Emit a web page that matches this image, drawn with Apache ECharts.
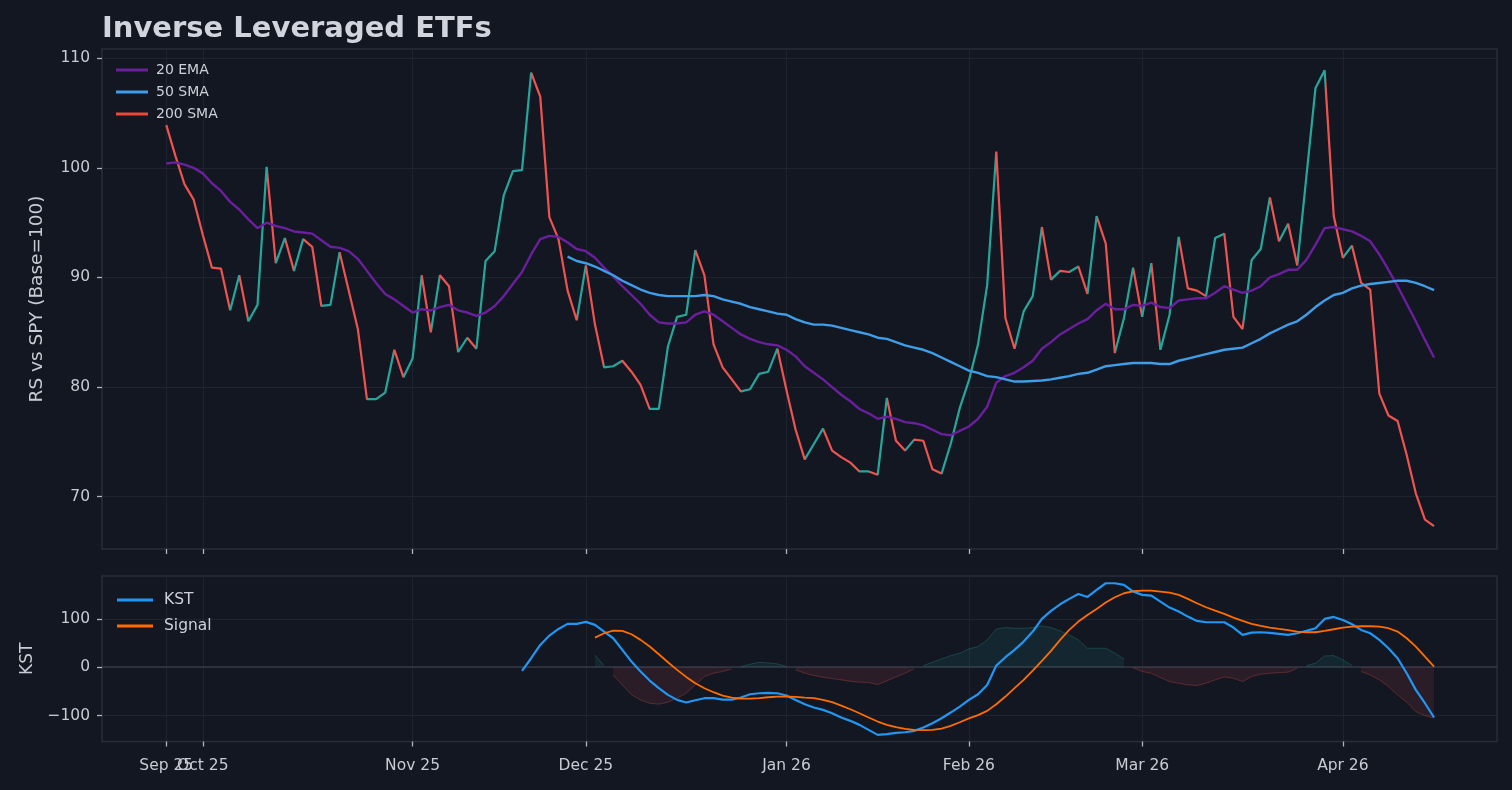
<!DOCTYPE html>
<html>
<head>
<meta charset="utf-8">
<title>Inverse Leveraged ETFs</title>
<script src="https://cdn.jsdelivr.net/npm/echarts@6/dist/echarts.min.js"></script>
<style>
  html, body { margin: 0; padding: 0; background: #131722; }
  #chart { width: 1512px; height: 790px; }
</style>
</head>
<body>
<div id="chart"></div>
<script>
// x axis is the trading-day index; labels sit on month starts
const tickPos = [0, 4, 27, 46, 68, 88, 107, 129];
const tickLabels = ['Sep 25', 'Oct 25', 'Nov 25', 'Dec 25', 'Jan 26', 'Feb 26', 'Mar 26', 'Apr 26'];

const rsTicks = [70, 80, 90, 100, 110];
const kstTicks = [-100, 0, 100];

// relative strength vs SPY, one value per trading day
const rs = [
    103.9, 101.1, 98.5, 97.1, 93.9, 90.9, 90.8, 87.0, 90.2, 86.0,
    87.5, 100.1, 91.3, 93.6, 90.6, 93.5, 92.8, 87.4, 87.5, 92.3,
    88.8, 85.3, 78.9, 78.9, 79.5, 83.4, 80.9, 82.6, 90.2, 85.0,
    90.2, 89.2, 83.2, 84.5, 83.5, 91.5, 92.4, 97.5, 99.7, 99.8,
    108.7, 106.5, 95.5, 93.5, 88.8, 86.1, 91.1, 85.7, 81.8, 81.9,
    82.4, 81.4, 80.2, 78.0, 78.0, 83.7, 86.4, 86.6, 92.5, 90.2,
    83.9, 81.8, 80.7, 79.6, 79.8, 81.2, 81.4, 83.5, 79.7, 76.1,
    73.4, 74.8, 76.2, 74.2, 73.6, 73.1, 72.3, 72.3, 72.0, 79.0,
    75.1, 74.2, 75.2, 75.1, 72.5, 72.1, 74.8, 78.1, 80.6, 83.9,
    89.3, 101.5, 86.3, 83.5, 86.9, 88.3, 94.6, 89.8, 90.6, 90.5,
    91.0, 88.5, 95.6, 93.1, 83.1, 86.3, 90.9, 86.4, 91.3, 83.4,
    86.6, 93.7, 89.0, 88.8, 88.3, 93.6, 94.0, 86.4, 85.3, 91.6,
    92.6, 97.3, 93.3, 94.9, 91.1, 99.2, 107.3, 108.9, 95.6, 91.8,
    92.9, 89.5, 88.9, 79.4, 77.4, 76.9, 73.8, 70.3, 67.9, 67.3
];

const ema20 = [
    100.4, 100.5, 100.3, 100.0, 99.5, 98.6, 97.9, 96.9, 96.2, 95.3,
    94.5, 95.0, 94.7, 94.5, 94.2, 94.1, 94.0, 93.4, 92.8, 92.7,
    92.4, 91.7, 90.6, 89.5, 88.5, 88.0, 87.4, 86.8, 87.1, 87.0,
    87.3, 87.5, 87.0, 86.8, 86.5, 86.8, 87.4, 88.3, 89.4, 90.5,
    92.1, 93.5, 93.8, 93.7, 93.2, 92.6, 92.4, 91.8, 90.9, 90.1,
    89.2, 88.4, 87.6, 86.6, 85.9, 85.8, 85.8, 85.9, 86.6, 86.9,
    86.6, 86.0, 85.4, 84.8, 84.4, 84.1, 83.9, 83.8, 83.4, 82.8,
    81.9, 81.3, 80.7, 80.0, 79.3, 78.7, 78.0, 77.6, 77.1, 77.3,
    77.1, 76.8, 76.7, 76.5, 76.1, 75.7, 75.6, 76.0, 76.4, 77.1,
    78.2, 80.4, 81.0, 81.3, 81.8, 82.4, 83.5, 84.1, 84.8, 85.3,
    85.8, 86.2, 87.0, 87.6, 87.1, 87.1, 87.5, 87.4, 87.7, 87.3,
    87.2, 87.9, 88.0, 88.1, 88.1, 88.6, 89.2, 88.9, 88.6, 88.8,
    89.2, 90.0, 90.3, 90.7, 90.7, 91.6, 93.0, 94.5, 94.6, 94.4,
    94.2, 93.8, 93.3, 92.1, 90.7, 89.2, 87.6, 86.0, 84.3, 82.7
];

// 50 SMA begins at day 44
const sma50Start = 44;
const sma50 = [
    91.9, 91.5, 91.3, 91.0, 90.6, 90.2, 89.7, 89.3, 88.9, 88.6,
    88.4, 88.3, 88.3, 88.3, 88.3, 88.4, 88.3, 88.0, 87.8, 87.6,
    87.3, 87.1, 86.9, 86.7, 86.6, 86.2, 85.9, 85.7, 85.7, 85.6,
    85.4, 85.2, 85.0, 84.8, 84.5, 84.4, 84.1, 83.8, 83.6, 83.4,
    83.1, 82.7, 82.3, 81.9, 81.5, 81.3, 81.0, 80.9, 80.7, 80.5,
    80.5, 80.55, 80.6, 80.7, 80.85, 81.0, 81.2, 81.3, 81.6, 81.9,
    82.0, 82.1, 82.2, 82.2, 82.2, 82.1, 82.1, 82.4, 82.6, 82.8,
    83.0, 83.2, 83.4, 83.5, 83.6, 84.0, 84.4, 84.9, 85.3, 85.7,
    86.0, 86.6, 87.3, 87.9, 88.4, 88.6, 89.0, 89.25, 89.4, 89.5,
    89.6, 89.7, 89.7, 89.5, 89.2, 88.85
];

// not enough history for a 200 SMA, legend entry only
const sma200 = [];

const kstStart = 39;
const kst = [
    -7.6, 18.6, 46.2, 65.5, 79.3, 89.7, 89.7, 93.8, 87.6, 73.8,
    60.0, 35.9, 11.7, -9.0, -27.6, -43.4, -57.2, -67.6, -73.1, -68.3,
    -64.1, -64.1, -66.9, -66.9, -62.8, -55.9, -53.8, -53.1, -53.8, -58.6,
    -67.6, -76.6, -83.4, -88.3, -95.2, -104.1, -111.0, -119.3, -129.7, -140.0,
    -138.6, -135.9, -134.5, -131.7, -124.8, -115.9, -105.5, -93.8, -81.4, -67.6,
    -56.0, -36.6, 3.4, 20.7, 35.9, 53.1, 73.8, 100.0, 116.6, 130.3,
    141.4, 151.7, 145.5, 160.0, 173.8, 173.8, 170.3, 156.6, 149.7, 148.3,
    135.9, 123.4, 115.2, 104.8, 95.9, 93.1, 93.1, 93.1, 82.1, 66.9,
    71.7, 72.4, 71.0, 69.0, 66.9, 70.3, 75.2, 80.7, 100.0, 104.1,
    97.9, 89.0, 77.2, 70.3, 56.6, 39.3, 18.6, -12.4, -46.9, -74.5,
    -104.1
];

// signal line and KST - signal histogram both begin at day 47
const signalStart = 47;
const signal = [
    61.4, 70.3, 75.9, 75.2, 68.3, 56.6, 42.8, 26.9, 10.3, -5.5,
    -20.0, -33.1, -43.4, -51.7, -58.6, -62.8, -64.8, -64.8, -64.1, -62.1,
    -60.7, -60.7, -61.4, -62.8, -64.1, -67.6, -72.4, -79.3, -86.9, -95.2,
    -104.1, -112.4, -119.3, -124.1, -127.6, -129.7, -130.3, -129.7, -126.9, -121.4,
    -113.8, -106.0, -99.0, -90.3, -76.6, -60.7, -43.4, -26.2, -6.9, 13.1,
    33.8, 56.6, 77.2, 94.5, 108.3, 120.7, 133.8, 144.8, 153.1, 157.2,
    158.6, 158.6, 156.6, 154.5, 149.7, 141.4, 132.4, 124.1, 117.2, 110.3,
    102.8, 95.9, 89.7, 85.5, 82.1, 79.3, 76.6, 73.8, 72.4, 72.4,
    75.2, 78.6, 82.1, 84.1, 84.8, 84.8, 84.1, 80.7, 73.8, 60.0,
    42.8, 22.0, 1.4
];
const hist = [
    25.5, 3.0, -16.0, -37.0, -57.0, -68.0, -74.5, -76.5, -72.4, -64.0,
    -54.0, -36.6, -19.3, -12.4, -9.0, -3.4, 1.0, 6.2, 10.3, 9.0,
    6.9, 1.4, -5.5, -12.4, -17.2, -20.7, -23.4, -26.2, -29.0, -31.0,
    -31.7, -35.9, -28.3, -20.0, -12.4, -3.4, 3.4, 10.3, 17.2, 24.0,
    29.0, 38.0, 42.8, 56.6, 79.3, 82.0, 80.7, 80.7, 82.0, 85.5,
    82.0, 75.2, 66.9, 56.6, 39.3, 39.3, 39.3, 29.0, 17.2, -1.0,
    -9.0, -12.4, -21.4, -29.7, -33.1, -36.6, -37.9, -33.1, -26.2, -20.0,
    -22.8, -29.7, -19.3, -14.5, -12.4, -11.0, -10.3, -2.0, 3.4, 8.3,
    23.4, 24.1, 15.2, 3.4, -9.0, -15.9, -26.2, -40.0, -57.2, -72.4,
    -91.7, -100.0, -105.5
];

const FONT = 'DejaVu Sans';
const BG = '#131722';
const UP = '#26a69a';
const DOWN = '#ef5350';
const GRID_LINE = '#1f2330';
const FRAME = '#2a2e39';
const TICK_TEXT = '#c8cbd2';
const X_MIN = -7.05;
const X_MAX = 145.9;

function pairs(arr, start) {
    return arr.map(function (v, i) { return [i + start, v]; });
}

// colour each RS segment by its direction
const rsPieces = [];
for (let i = 0; i < rs.length - 1; i++) {
    const piece = { gte: i, color: rs[i + 1] >= rs[i] ? UP : DOWN };
    if (i === rs.length - 2) piece.lte = i + 1; else piece.lt = i + 1;
    rsPieces.push(piece);
}

function labelStyle(values) {
    return {
        customValues: values,
        hideOverlap: false,
        margin: 16,
        color: TICK_TEXT,
        fontFamily: FONT,
        fontSize: 15.5,
        formatter: function (v) { return tickLabels[tickPos.indexOf(v)]; }
    };
}

function xAxisOf(gridIndex, showLabels) {
    // first label overlaps the second, so it gets its own axis below
    const label = labelStyle(tickPos.slice(1));
    label.show = showLabels;
    return {
        type: 'value',
        gridIndex: gridIndex,
        min: X_MIN,
        max: X_MAX,
        axisLine: { show: false, onZero: false },
        splitLine: { show: true, lineStyle: { color: GRID_LINE, width: 1 } },
        axisTick: { show: true, customValues: tickPos, length: 5, lineStyle: { color: '#b2b5be', width: 1.3 } },
        axisLabel: label
    };
}

function yAxisOf(gridIndex, min, max, ticks, name, nameGap, nameSize) {
    return {
        type: 'value',
        gridIndex: gridIndex,
        min: min,
        max: max,
        axisLine: { show: false, onZero: false },
        splitLine: { show: true, lineStyle: { color: GRID_LINE, width: 1 } },
        axisTick: { show: true, customValues: ticks, length: 5, lineStyle: { color: '#b2b5be', width: 1.3 } },
        axisLabel: {
            customValues: ticks,
            margin: 12,
            color: TICK_TEXT,
            fontFamily: FONT,
            fontSize: 15.5,
            formatter: function (v) { return v < 0 ? '\u2212' + Math.abs(v) : String(v); }
        },
        name: name,
        nameLocation: 'middle',
        nameGap: nameGap,
        nameTextStyle: { color: TICK_TEXT, fontFamily: FONT, fontSize: nameSize }
    };
}

const option = {
    backgroundColor: BG,
    animation: false,
    title: {
        text: 'Inverse Leveraged ETFs',
        left: 97,
        top: 10,
        textStyle: { color: '#d1d4dc', fontFamily: FONT, fontSize: 29, fontWeight: 'bold' }
    },
    legend: [
        {
            data: ['20 EMA', '50 SMA', '200 SMA'],
            orient: 'vertical',
            left: 116,
            top: 63,
            padding: 0,
            itemGap: 8,
            itemWidth: 32,
            itemHeight: 3,
            icon: 'rect',
            textStyle: { color: '#cdd0d8', fontFamily: FONT, fontSize: 14, padding: [0, 0, 0, 3] }
        },
        {
            data: ['KST', 'Signal'],
            orient: 'vertical',
            left: 117,
            top: 592,
            padding: 0,
            itemGap: 10,
            itemWidth: 36,
            itemHeight: 3,
            icon: 'rect',
            textStyle: { color: '#cdd0d8', fontFamily: FONT, fontSize: 15.5, padding: [0, 0, 0, 6] }
        }
    ],
    grid: [
        { left: 102, right: 15, top: 49, height: 500, show: true, borderColor: FRAME, borderWidth: 1.5, backgroundColor: 'transparent' },
        { left: 102, right: 15, top: 576, height: 165.5, show: true, borderColor: FRAME, borderWidth: 1.5, backgroundColor: 'transparent' }
    ],
    xAxis: [
        xAxisOf(0, false),
        xAxisOf(1, true),
        // zero line of the KST panel
        {
            type: 'value',
            gridIndex: 1,
            min: X_MIN,
            max: X_MAX,
            axisLine: { show: true, onZero: true, lineStyle: { color: '#363a45', width: 1.6 } },
            axisTick: { show: false },
            axisLabel: { show: false },
            splitLine: { show: false }
        },
        // label of the first day only
        {
            type: 'value',
            gridIndex: 1,
            position: 'bottom',
            min: X_MIN,
            max: X_MAX,
            axisLine: { show: false, onZero: false },
            axisTick: { show: false },
            splitLine: { show: false },
            axisLabel: labelStyle(tickPos.slice(0, 1))
        }
    ],
    yAxis: [
        yAxisOf(0, 65.22, 110.85, rsTicks, 'RS vs SPY (Base=100)', 55, 18.5),
        yAxisOf(1, -153.7, 188.8, kstTicks, 'KST', 64, 17)
    ],
    visualMap: [{
        type: 'piecewise',
        show: false,
        seriesIndex: 0,
        dimension: 0,
        pieces: rsPieces,
        outOfRange: { color: UP }
    }],
    series: [
        {
            name: 'RS',
            type: 'line',
            xAxisIndex: 0,
            yAxisIndex: 0,
            data: pairs(rs, 0),
            showSymbol: false,
            z: 3,
            lineStyle: { width: 2.2 }
        },
        {
            name: '20 EMA',
            type: 'line',
            xAxisIndex: 0,
            yAxisIndex: 0,
            data: pairs(ema20, 0),
            showSymbol: false,
            color: '#6a1f9c',
            z: 3,
            lineStyle: { width: 2.4 }
        },
        {
            name: '50 SMA',
            type: 'line',
            xAxisIndex: 0,
            yAxisIndex: 0,
            data: pairs(sma50, sma50Start),
            showSymbol: false,
            color: '#3f9ee8',
            z: 3,
            lineStyle: { width: 2.4 }
        },
        {
            name: '200 SMA',
            type: 'line',
            xAxisIndex: 0,
            yAxisIndex: 0,
            data: sma200,
            showSymbol: false,
            color: '#e8493b',
            lineStyle: { width: 2.4 }
        },
        {
            name: 'histUp',
            type: 'line',
            xAxisIndex: 1,
            yAxisIndex: 1,
            data: hist.map(function (v, i) { return [i + signalStart, v >= 0 ? v : '-']; }),
            showSymbol: false,
            z: 2,
            lineStyle: { width: 1, color: 'rgba(38,166,154,0.28)' },
            areaStyle: { color: 'rgba(38,166,154,0.16)' }
        },
        {
            name: 'histDown',
            type: 'line',
            xAxisIndex: 1,
            yAxisIndex: 1,
            data: hist.map(function (v, i) { return [i + signalStart, v < 0 ? v : '-']; }),
            showSymbol: false,
            z: 2,
            lineStyle: { width: 1, color: 'rgba(239,83,80,0.28)' },
            areaStyle: { color: 'rgba(239,83,80,0.16)' }
        },
        {
            name: 'KST',
            type: 'line',
            xAxisIndex: 1,
            yAxisIndex: 1,
            data: pairs(kst, kstStart),
            showSymbol: false,
            color: '#2196f3',
            z: 3,
            lineStyle: { width: 2.2 }
        },
        {
            name: 'Signal',
            type: 'line',
            xAxisIndex: 1,
            yAxisIndex: 1,
            data: pairs(signal, signalStart),
            showSymbol: false,
            color: '#ff6d00',
            z: 3,
            lineStyle: { width: 1.8 }
        }
    ]
};

echarts.init(document.getElementById('chart')).setOption(option);
</script>
</body>
</html>
